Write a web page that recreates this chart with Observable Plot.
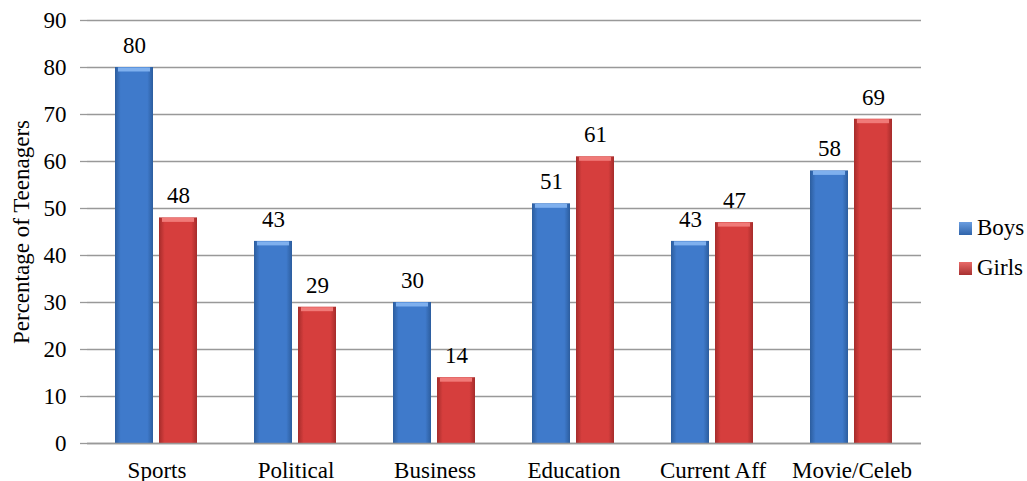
<!DOCTYPE html>
<html>
<head>
<meta charset="utf-8">
<script src="https://cdn.jsdelivr.net/npm/d3@7"></script>
<script src="https://cdn.jsdelivr.net/npm/@observablehq/plot@0.6"></script>
<style>
  html, body { margin: 0; padding: 0; background: #fff; }
  #wrap { position: relative; width: 1027px; height: 481px; font-family: 'Liberation Serif', 'DejaVu Serif', serif; }
  #legend { position: absolute; left: 959px; top: 208px; font-size: 23px; color: #000; font-family: 'Liberation Serif', 'DejaVu Serif', serif; }
  .item { display: flex; align-items: center; height: 40px; }
  .sw { width: 13px; height: 13px; margin-right: 5px; }
  svg text { font-family: 'Liberation Serif', 'DejaVu Serif', serif !important; }
</style>
</head>
<body>
<div id="wrap"></div>
<script>
const categories = ["Sports", "Political", "Business", "Education", "Current Aff", "Movie/Celeb"];
const series = ["Boys", "Girls"];
const boys = [80, 43, 30, 51, 43, 58];
const girls = [48, 29, 14, 61, 47, 69];
const yTicks = [0, 10, 20, 30, 40, 50, 60, 70, 80, 90];

const data = [];
categories.forEach((c, i) => {
  data.push({category: c, series: "Boys", value: boys[i]});
  data.push({category: c, series: "Girls", value: girls[i]});
});

const fills = {Boys: "url(#gBlue)", Girls: "url(#gRed)"};
const tops = {Boys: "#7fb0ee", Girls: "#f07a78"};

const plot = Plot.plot({
  width: 940,
  height: 481,
  marginTop: 20,
  marginBottom: 38,
  marginLeft: 86,
  marginRight: 18,
  style: {fontFamily: "'Liberation Serif', 'DejaVu Serif', serif", fontSize: "23px", color: "#000", background: "#fff", overflow: "visible"},
  fx: {domain: categories, padding: 0, label: null, axis: null},
  x: {domain: series, paddingInner: 0.133, paddingOuter: 0.611, axis: null},
  y: {domain: [0, 90], ticks: yTicks, label: null, grid: false},
  marks: [
    Plot.gridY(yTicks, {stroke: "#999", strokeOpacity: 1, strokeWidth: 1.3}),
    Plot.axisY(yTicks, {tickSize: 7, tickPadding: 14, stroke: "#999", strokeWidth: 1.3, fontSize: 23,
      label: "Percentage of Teenagers", labelAnchor: "center", labelArrow: "none", labelOffset: 75}),
    Plot.axisFx({domain: categories, anchor: "bottom", tickSize: 0, tickPadding: 18, fontSize: 23, label: null}),
    Plot.barY(data, {fx: "category", x: "series", y: "value", fill: d => fills[d.series]}),
    Plot.tickY(data, {fx: "category", x: "series", y: "value", stroke: d => tops[d.series], strokeWidth: 4, dy: 2, inset: 3}),
    Plot.ruleX([0], {frameAnchor: "left", stroke: "#999", strokeWidth: 1.3}),
    Plot.ruleY([0], {stroke: "#999", strokeWidth: 1.3}),
    Plot.text(data, {fx: "category", x: "series", y: "value", text: d => String(d.value), dy: -22, fontSize: 23, fill: "#000"})
  ]
});

const svg = d3.select(plot);
const defs = svg.insert("defs", ":first-child");
function grad(id, edge, mid) {
  const g = defs.append("linearGradient").attr("id", id).attr("x1", "0").attr("x2", "1").attr("y1", "0").attr("y2", "0");
  g.append("stop").attr("offset", "0").attr("stop-color", edge);
  g.append("stop").attr("offset", "0.15").attr("stop-color", mid);
  g.append("stop").attr("offset", "0.85").attr("stop-color", mid);
  g.append("stop").attr("offset", "1").attr("stop-color", edge);
}
grad("gBlue", "#2c5d9e", "#3f7acb");
grad("gRed", "#a52c2b", "#d63e3d");

document.getElementById("wrap").appendChild(plot);

const legend = document.createElement("div");
legend.id = "legend";
[["Boys", "linear-gradient(#6a9de0,#2f64aa)"], ["Girls", "linear-gradient(#e86a68,#a83030)"]].forEach(([name, bg]) => {
  const it = document.createElement("div");
  it.className = "item";
  const sw = document.createElement("div");
  sw.className = "sw";
  sw.style.background = bg;
  const t = document.createElement("span");
  t.textContent = name;
  it.appendChild(sw); it.appendChild(t);
  legend.appendChild(it);
});
document.getElementById("wrap").appendChild(legend);
</script>
</body>
</html>
